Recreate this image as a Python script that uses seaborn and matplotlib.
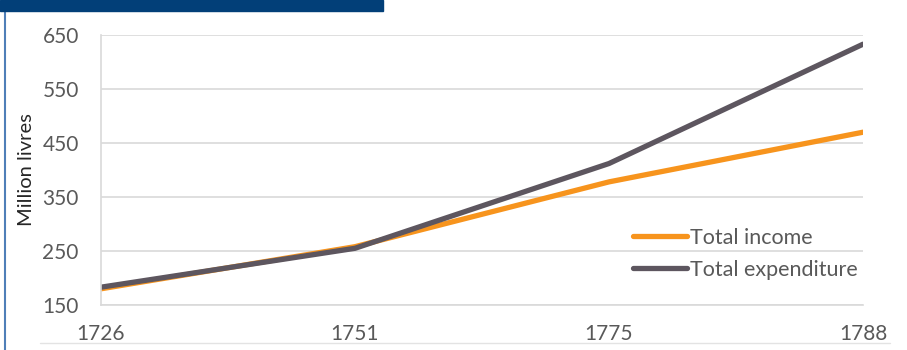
import matplotlib.pyplot as plt
import seaborn as sns
import pandas as pd
from matplotlib.patches import Rectangle
from matplotlib.lines import Line2D

years = ['1726', '1751', '1775', '1788']
income = [180, 258, 378, 470]
expenditure = [183, 255, 412, 633]
series_names = ['Total income', 'Total expenditure']
y_ticks = [150, 250, 350, 450, 550, 650]

df = pd.DataFrame({
    'year': years * 2,
    'value': income + expenditure,
    'series': [series_names[0]] * len(years) + [series_names[1]] * len(years),
})

sns.set_style('white')
plt.rcParams['font.family'] = ['Lato', 'DejaVu Sans']

fig = plt.figure(figsize=(9.07, 3.5), dpi=100)
ax = fig.add_axes([101 / 907, 1 - 305 / 350, (863 - 101) / 907, (305 - 35) / 350])

palette = {'Total income': '#F7941D', 'Total expenditure': '#5D565F'}
sns.lineplot(data=df, x='year', y='value', hue='series', palette=palette,
             linewidth=3.8, ax=ax, sort=False, legend=False)

ax.set_xlim(0, len(years) - 1)
ax.set_ylim(150, 650)
ax.set_yticks(y_ticks)
ax.set_xticks(range(len(years)))
ax.set_xticklabels(years)
ax.yaxis.grid(True, color='#D9D9D9', linewidth=1.2)
ax.xaxis.grid(False)
for side in ['top', 'right']:
    ax.spines[side].set_visible(False)
for side in ['left', 'bottom']:
    ax.spines[side].set_color('#D9D9D9')
    ax.spines[side].set_linewidth(1.2)
ax.tick_params(axis='both', colors='#D9D9D9', length=6, width=1.2,
               labelcolor='#595959', labelsize=15)
ax.tick_params(axis='y', pad=10)
ax.tick_params(axis='x', pad=8)
ax.set_xlabel('')
ax.set_ylabel('Million livres', fontsize=14.5, color='#262626')
ax.yaxis.set_label_coords(-0.087, 0.5)

handles = [Line2D([], [], color=palette[n], linewidth=3.8, solid_capstyle='round')
           for n in series_names]
ax.legend(handles, series_names, loc='upper left',
          bbox_to_anchor=(633 / 907, 1 - 228 / 350), bbox_transform=fig.transFigure,
          frameon=False, fontsize=15.5, handlelength=2.5, handletextpad=0.15,
          labelspacing=0.55, borderpad=0, borderaxespad=0, labelcolor='#595959')

# decorative frame pieces
fig.patches.append(Rectangle((0, 1 - 11 / 350), 383 / 907, 11 / 350,
                             transform=fig.transFigure, color='#023F78', zorder=5))
fig.add_artist(Line2D([5 / 907, 5 / 907], [0, 1 - 11 / 350], color='#4F7FB8',
                      linewidth=1.5, transform=fig.transFigure))
fig.add_artist(Line2D([40 / 907, 890 / 907], [1 - 343 / 350] * 2, color='#E3E3E3',
                      linewidth=1, transform=fig.transFigure))

fig.savefig('out.png', dpi=100)
